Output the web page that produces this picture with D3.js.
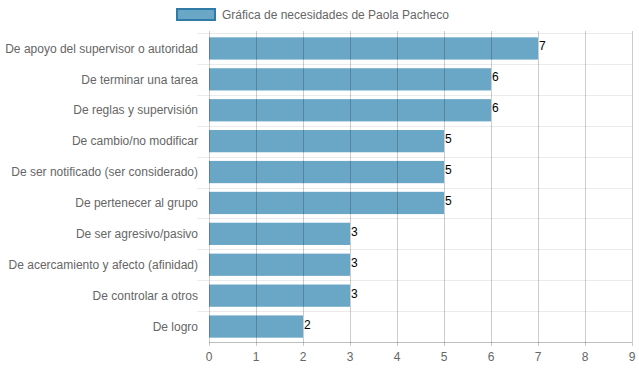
<!DOCTYPE html>
<html lang="es">
<head>
    <meta charset="UTF-8">
    <title>Gráfica de necesidades</title>
    <script src="https://d3js.org/d3.v7.min.js"></script>
    <style>
        body {
            margin: 0;
            background: #fff;
            font-family: "Liberation Sans", Arial, sans-serif;
        }
    </style>
</head>
<body>
    <div id="chart"></div>

    <script>
        // data
        const categories = [
            "De apoyo del supervisor o autoridad",
            "De terminar una tarea",
            "De reglas y supervisión",
            "De cambio/no modificar",
            "De ser notificado (ser considerado)",
            "De pertenecer al grupo",
            "De ser agresivo/pasivo",
            "De acercamiento y afecto (afinidad)",
            "De controlar a otros",
            "De logro"
        ];
        const values = [7, 6, 6, 5, 5, 5, 3, 3, 3, 2];
        const xTicks = [0, 1, 2, 3, 4, 5, 6, 7, 8, 9];
        const seriesName = "Gráfica de necesidades de Paola Pacheco";

        const width = 639, height = 372;
        const plotLeft = 209, plotRight = 632, plotTop = 33, plotBottom = 342;
        const barFill = "#6aa6c6";
        const barStroke = "#2f7aa6";

        const svg = d3.select("#chart")
            .append("svg")
            .attr("width", width)
            .attr("height", height);

        const x = d3.scaleLinear().domain([0, 9]).range([plotLeft, plotRight]);
        const y = d3.scaleBand()
            .domain(categories)
            .range([plotTop, plotBottom])
            .paddingInner(0.28)
            .paddingOuter(0.14);
        const step = y.step();

        // horizontal grid (category boundaries)
        svg.append("g")
            .selectAll("line")
            .data(d3.range(categories.length))
            .enter().append("line")
            .attr("x1", plotLeft - 12)
            .attr("x2", plotRight)
            .attr("y1", i => Math.round(plotTop + i * step) + 0.5)
            .attr("y2", i => Math.round(plotTop + i * step) + 0.5)
            .attr("stroke", "#ebebeb")
            .attr("stroke-width", 1);

        // bars
        svg.append("g")
            .selectAll("rect")
            .data(values)
            .enter().append("rect")
            .attr("x", x(0))
            .attr("y", (d, i) => y(categories[i]))
            .attr("width", d => x(d) - x(0))
            .attr("height", y.bandwidth())
            .attr("fill", barFill);

        // vertical grid on top, translucent like the reference
        svg.append("g")
            .selectAll("line")
            .data(xTicks)
            .enter().append("line")
            .attr("x1", d => Math.round(x(d)) + 0.5)
            .attr("x2", d => Math.round(x(d)) + 0.5)
            .attr("y1", plotTop - 2)
            .attr("y2", plotBottom + 4)
            .attr("stroke", "rgba(0,0,0,0.2)")
            .attr("stroke-width", 1);

        // bottom axis line
        svg.append("line")
            .attr("x1", plotLeft)
            .attr("x2", plotRight)
            .attr("y1", plotBottom + 0.5)
            .attr("y2", plotBottom + 0.5)
            .attr("stroke", "rgba(0,0,0,0.25)");

        // x tick labels
        svg.append("g")
            .selectAll("text")
            .data(xTicks)
            .enter().append("text")
            .attr("x", d => x(d))
            .attr("y", plotBottom + 19)
            .attr("text-anchor", "middle")
            .attr("fill", "#666")
            .attr("font-size", "12px")
            .text(d => d);

        // category labels
        svg.append("g")
            .selectAll("text")
            .data(categories)
            .enter().append("text")
            .attr("x", plotLeft - 11)
            .attr("y", d => y(d) + y.bandwidth() / 2)
            .attr("dy", "0.35em")
            .attr("text-anchor", "end")
            .attr("fill", "#666")
            .attr("font-size", "12px")
            .text(d => d);

        // value labels
        svg.append("g")
            .selectAll("text")
            .data(values)
            .enter().append("text")
            .attr("x", d => x(d) + 1)
            .attr("y", (d, i) => y(categories[i]) + y.bandwidth() / 2 + 2)
            .attr("fill", "#000")
            .attr("font-size", "12px")
            .text(d => d);

        // legend
        svg.append("rect")
            .attr("x", 177)
            .attr("y", 9)
            .attr("width", 38)
            .attr("height", 11)
            .attr("fill", barFill)
            .attr("stroke", barStroke)
            .attr("stroke-width", 2);

        svg.append("text")
            .attr("x", 222)
            .attr("y", 15)
            .attr("dy", "0.35em")
            .attr("fill", "#666")
            .attr("font-size", "12px")
            .text(seriesName);
    </script>
</body>
</html>
